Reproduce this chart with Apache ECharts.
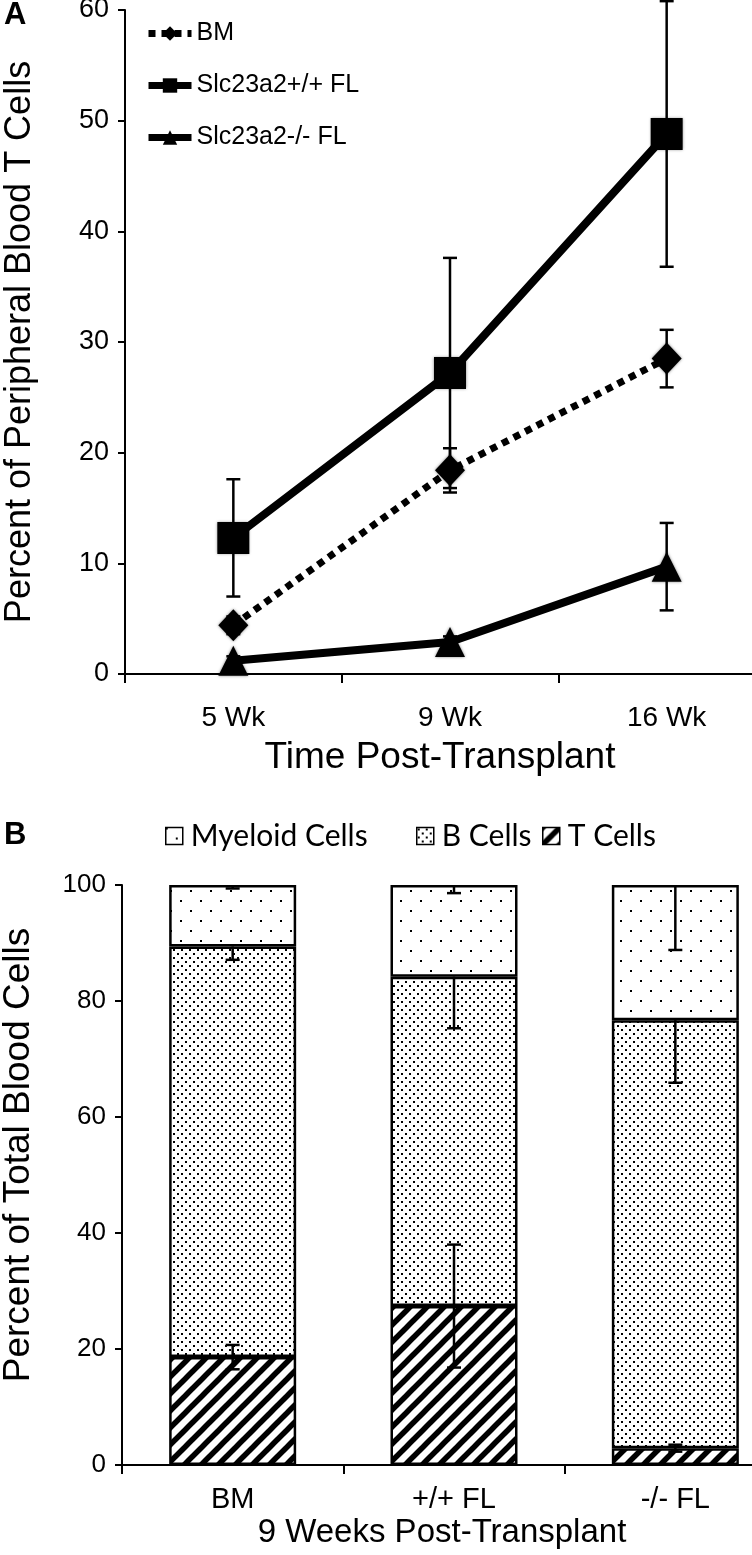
<!DOCTYPE html>
<html><head><meta charset="utf-8">
<script src="https://cdn.jsdelivr.net/npm/echarts@6/dist/echarts.min.js"></script>
<style>html,body{margin:0;padding:0;background:#fff;} #c{width:752px;height:1555px;}</style>
</head><body><div id="c"></div>
<script>
// ---- Panel A data ----
const weeks = ['5 Wk', '9 Wk', '16 Wk'];
const bmMean = [4.4, 18.4, 28.5];
const bmErr  = [0.8, 2.0, 2.6];
const wtMean = [12.3, 27.2, 48.8];
const wtErr  = [5.3, 10.4, 12.0];
const koMean = [1.2, 2.9, 9.7];
const koErr  = [0.4, 0.5, 3.95];
const seriesNamesA = ['BM', 'Slc23a2+/+ FL', 'Slc23a2-/- FL'];

// ---- Panel B data ----
const groups  = ['BM', '+/+ FL', '-/- FL'];
const tCells  = [18.6, 27.4, 2.9];
const bCells  = [70.8, 56.8, 73.8];
const myeloid = [10.6, 15.8, 23.3];
const tErr = [2.1, 10.6, 0.6];
const bErr = [2.3, 8.9, 10.8];
const mErr = [0.6, 1.4, 11.2];
const seriesNamesB = ['Myeloid Cells', 'B Cells', 'T Cells'];

const FONT = '"Liberation Sans", Arial, sans-serif';
const LFONT = 'Lato, "Open Sans", sans-serif';

function makeCanvas(w, h, draw) {
  const c = document.createElement('canvas');
  c.width = w; c.height = h;
  const ctx = c.getContext('2d');
  ctx.fillStyle = '#fff'; ctx.fillRect(0, 0, w, h);
  ctx.fillStyle = '#000'; ctx.strokeStyle = '#000';
  draw(ctx);
  return c;
}
const myeloidPat = makeCanvas(20, 20, ctx => { ctx.fillRect(0, 0, 2, 2); ctx.fillRect(10, 10, 2, 2); });
const bPat = makeCanvas(8, 8, ctx => { ctx.fillRect(1, 1, 2, 2); ctx.fillRect(5, 5, 2, 2); });
const tPat = makeCanvas(17, 17, ctx => {
  ctx.lineWidth = 5.5;
  for (const o of [-17, 0, 17]) { ctx.beginPath(); ctx.moveTo(o - 2, 19); ctx.lineTo(o + 19, -2); ctx.stroke(); }
});

function errRender(capW, lw) {
  return function (params, api) {
    const x = api.value(0), lo = api.value(1), hi = api.value(2), cl = api.value(3), ch = api.value(4);
    const p1 = api.coord([x, lo]), p2 = api.coord([x, hi]);
    const st = { stroke: '#000', lineWidth: lw };
    const ch_ = [{ type: 'line', shape: { x1: p1[0], y1: p1[1], x2: p2[0], y2: p2[1] }, style: st }];
    if (cl) ch_.push({ type: 'line', shape: { x1: p1[0] - capW / 2, y1: p1[1], x2: p1[0] + capW / 2, y2: p1[1] }, style: st });
    if (ch) ch_.push({ type: 'line', shape: { x1: p2[0] - capW / 2, y1: p2[1], x2: p2[0] + capW / 2, y2: p2[1] }, style: st });
    return { type: 'group', children: ch_ };
  };
}

const errA = (m, e) => m.map((v, i) => [i, v - e[i], v + e[i], 1, 1]);
const topT = tCells.map(v => v);
const topB = tCells.map((v, i) => v + bCells[i]);
const topM = tCells.map((v, i) => v + bCells[i] + myeloid[i]);

const chart = echarts.init(document.getElementById('c'), null, { renderer: 'canvas' });
const axisLine = { show: true, lineStyle: { color: '#000', width: 2 } };
const axisTick = { show: true, length: 7, lineStyle: { color: '#000', width: 2 } };
const legB = (name, left) => ({
  data: [name], orient: 'horizontal', left: left, top: 821, padding: 0, itemWidth: 17, itemHeight: 17,
  icon: 'rect', itemStyle: { borderColor: '#000', borderWidth: 1.5 },
  textStyle: { fontFamily: LFONT, fontSize: 30, color: '#000', padding: [0, 0, 0, 3] }
});

const option = {
  backgroundColor: '#fff',
  animation: false,
  graphic: [
    { type: 'text', left: 4, top: 0, style: { text: 'A', font: 'bold 31px ' + FONT, fill: '#000' } },
    { type: 'text', left: 4, top: 820, style: { text: 'B', font: 'bold 31px ' + FONT, fill: '#000' } }
  ],
  legend: [
    {
      data: seriesNamesA, orient: 'vertical', left: 145, top: 21, padding: 0, itemWidth: 43, itemHeight: 18, itemGap: 27,
      lineStyle: { width: 7 },
      textStyle: { fontFamily: FONT, fontSize: 25, color: '#000', padding: [0, 0, 0, 0] }
    },
    legB('Myeloid Cells', 165),
    legB('B Cells', 416),
    legB('T Cells', 542)
  ],
  grid: [
    { left: 125, top: 10, width: 650, height: 664, outerBoundsMode: 'none', containLabel: false },
    { left: 122, top: 885, width: 664, height: 580, outerBoundsMode: 'none', containLabel: false }
  ],
  xAxis: [
    {
      gridIndex: 0, type: 'category', data: weeks, boundaryGap: true,
      axisLine, axisTick: { ...axisTick, length: 9 },
      axisLabel: { fontFamily: FONT, fontSize: 28, color: '#000', margin: 30 },
      name: 'Time Post-Transplant', nameLocation: 'middle', nameGap: 65,
      nameTextStyle: { fontFamily: FONT, fontSize: 37, color: '#000', padding: [0, 20, 0, 0] }
    },
    {
      gridIndex: 1, type: 'category', data: groups, boundaryGap: true,
      axisLine, axisTick: { ...axisTick, length: 9 },
      axisLabel: { fontFamily: FONT, fontSize: 29, color: '#000', margin: 20 },
      name: '9 Weeks Post-Transplant', nameLocation: 'middle', nameGap: 51,
      nameTextStyle: { fontFamily: FONT, fontSize: 33, color: '#000', padding: [0, 24, 0, 0] }
    }
  ],
  yAxis: [
    {
      gridIndex: 0, type: 'value', min: 0, max: 60, interval: 10,
      axisLine, axisTick, splitLine: { show: false },
      axisLabel: { fontFamily: FONT, fontSize: 27, color: '#000', margin: 16 },
      name: 'Percent of Peripheral Blood T Cells', nameLocation: 'middle', nameGap: 87, nameRotate: 90,
      nameTextStyle: { fontFamily: FONT, fontSize: 36, color: '#000' }
    },
    {
      gridIndex: 1, type: 'value', min: 0, max: 100, interval: 20,
      axisLine, axisTick, splitLine: { show: false },
      axisLabel: { fontFamily: FONT, fontSize: 26, color: '#000', margin: 16 },
      name: 'Percent of Total Blood Cells', nameLocation: 'middle', nameGap: 85, nameRotate: 90,
      nameTextStyle: { fontFamily: FONT, fontSize: 37, color: '#000', padding: [0, 0, 0, 40] }
    }
  ],
  series: [
    { type: 'custom', xAxisIndex: 0, yAxisIndex: 0, renderItem: errRender(14, 2.5), data: errA(bmMean, bmErr), encode: { x: 0, y: [1, 2] }, z: 5, silent: true },
    { type: 'custom', xAxisIndex: 0, yAxisIndex: 0, renderItem: errRender(14, 2.5), data: errA(wtMean, wtErr), encode: { x: 0, y: [1, 2] }, z: 5, silent: true },
    { type: 'custom', xAxisIndex: 0, yAxisIndex: 0, renderItem: errRender(14, 2.5), data: errA(koMean, koErr), encode: { x: 0, y: [1, 2] }, z: 5, silent: true },
    {
      name: 'BM', type: 'line', xAxisIndex: 0, yAxisIndex: 0, data: bmMean,
      symbol: 'diamond', symbolSize: [30, 32], showAllSymbol: true,
      lineStyle: { color: '#000', width: 7, type: [7, 6], cap: 'butt' },
      itemStyle: { color: '#000', shadowBlur: 3, shadowColor: 'rgba(0,0,0,0.5)' }, z: 3
    },
    {
      name: 'Slc23a2+/+ FL', type: 'line', xAxisIndex: 0, yAxisIndex: 0, data: wtMean,
      symbol: 'rect', symbolSize: 32,
      lineStyle: { color: '#000', width: 8 },
      itemStyle: { color: '#000', shadowBlur: 3, shadowColor: 'rgba(0,0,0,0.5)' }, z: 3
    },
    {
      name: 'Slc23a2-/- FL', type: 'line', xAxisIndex: 0, yAxisIndex: 0, data: koMean,
      symbol: 'triangle', symbolSize: [30, 30],
      lineStyle: { color: '#000', width: 8 },
      itemStyle: { color: '#000', shadowBlur: 3, shadowColor: 'rgba(0,0,0,0.5)' }, z: 3
    },
    {
      name: 'T Cells', type: 'bar', stack: 'b', xAxisIndex: 1, yAxisIndex: 1, data: tCells, barWidth: 127,
      itemStyle: { color: { image: tPat, repeat: 'repeat' }, borderColor: '#000', borderWidth: 2.5 }
    },
    {
      name: 'B Cells', type: 'bar', stack: 'b', xAxisIndex: 1, yAxisIndex: 1, data: bCells, barWidth: 127,
      itemStyle: { color: { image: bPat, repeat: 'repeat' }, borderColor: '#000', borderWidth: 2.5 }
    },
    {
      name: 'Myeloid Cells', type: 'bar', stack: 'b', xAxisIndex: 1, yAxisIndex: 1, data: myeloid, barWidth: 127,
      itemStyle: { color: { image: myeloidPat, repeat: 'repeat' }, borderColor: '#000', borderWidth: 2.5 }
    },
    { type: 'custom', xAxisIndex: 1, yAxisIndex: 1, renderItem: errRender(14, 2.5), data: topT.map((v, i) => [i, v - tErr[i], v + tErr[i], 1, 1]), encode: { x: 0, y: [1, 2] }, z: 6, silent: true },
    { type: 'custom', xAxisIndex: 1, yAxisIndex: 1, renderItem: errRender(14, 2.5), data: topB.map((v, i) => [i, v - bErr[i], v, 1, 0]), encode: { x: 0, y: [1, 2] }, z: 6, silent: true },
    { type: 'custom', xAxisIndex: 1, yAxisIndex: 1, renderItem: errRender(14, 2.5), data: topM.map((v, i) => [i, v - mErr[i], v, 1, 0]), encode: { x: 0, y: [1, 2] }, z: 6, silent: true }
  ]
};
chart.setOption(option);
</script>
</body></html>
